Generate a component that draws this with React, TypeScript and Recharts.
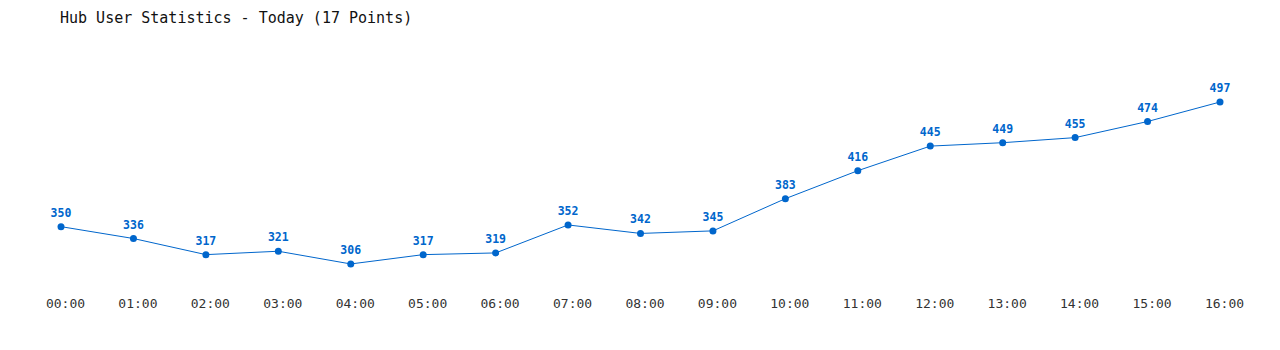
import React from "react";
import { LineChart, Line, XAxis, YAxis, LabelList } from "recharts";

const categories = ["00:00","01:00","02:00","03:00","04:00","05:00","06:00","07:00","08:00","09:00","10:00","11:00","12:00","13:00","14:00","15:00","16:00"];
const users = [350,336,317,321,306,317,319,352,342,345,383,416,445,449,455,474,497];

const data = categories.map((c, i) => ({ time: c, users: users[i] }));

const FONT = "'DejaVu Sans Mono', 'Liberation Mono', monospace";

export default function App() {
  return (
    <div style={{ position: "relative", width: 1264, height: 334, fontFamily: FONT }}>
      <div style={{ position: "absolute", left: 52, top: 1, fontSize: 15, color: "#111", whiteSpace: "pre" }}>
        Hub User Statistics - Today (17 Points)
      </div>
      <LineChart width={1264} height={334} data={data} margin={{ top: 74.5, right: 52, bottom: 26, left: 53 }}>
        <XAxis
          dataKey="time"
          axisLine={false}
          tickLine={false}
          height={30}
          tickMargin={7}
          interval={0}
          tick={{ fill: "#333", fontSize: 13, fontFamily: FONT, dx: 4.5 }}
        />
        <YAxis hide domain={[280, 520]} />
        <Line
          type="linear"
          dataKey="users"
          stroke="#0066cc"
          strokeWidth={1}
          dot={{ r: 3.5, fill: "#0066cc", stroke: "#0066cc", strokeWidth: 0 }}
          isAnimationActive={false}
        >
          <LabelList dataKey="users" position="top" offset={10} fill="#0066cc" fontSize={11.5} fontWeight="bold" fontFamily={FONT} />
        </Line>
      </LineChart>
    </div>
  );
}
